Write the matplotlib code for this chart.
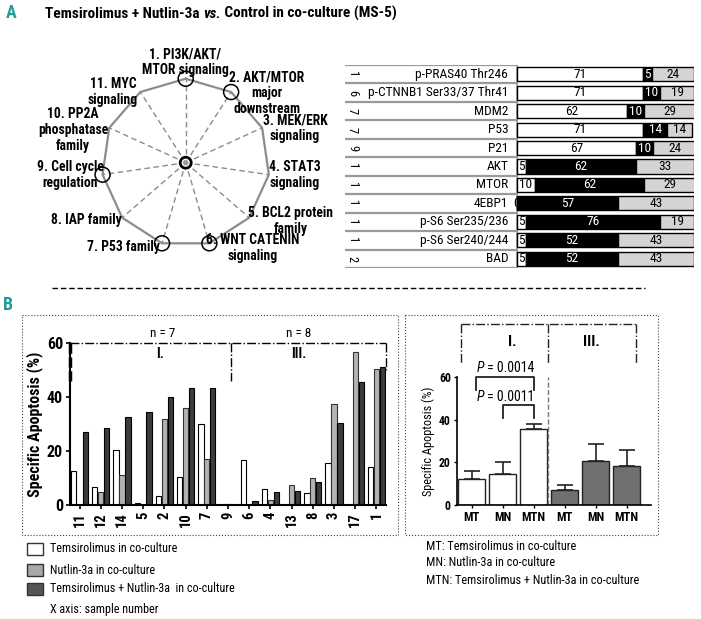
import numpy as np
import matplotlib
matplotlib.use("Agg")
import matplotlib.pyplot as plt
from matplotlib.patches import Circle, Rectangle

plt.rcParams['font.family'] = ['Roboto Condensed', 'Liberation Sans', 'DejaVu Sans']

TEAL = '#1f9c98'

# ---- panel A: pathway radar ----
pathways = ["1. PI3K/AKT/\nMTOR signaling", "2. AKT/MTOR\nmajor\ndownstream",
            "3. MEK/ERK\nsignaling", "4. STAT3\nsignaling", "5. BCL2 protein\nfamily",
            "6. WNT CATENIN\nsignaling", "7. P53 family", "8. IAP family",
            "9. Cell cycle\nregulation", "10. PP2A\nphosphatase\nfamily", "11. MYC\nsignaling"]
circled = [1, 2, 6, 7, 9]

# ---- panel A: protein table ----
proteins = ["p-PRAS40 Thr246", "p-CTNNB1 Ser33/37 Thr41", "MDM2", "P53", "P21", "AKT",
            "MTOR", "4EBP1", "p-S6 Ser235/236", "p-S6 Ser240/244", "BAD"]
protein_n = [1, 6, 7, 7, 9, 1, 1, 1, 1, 1, 2]
pct_white = [71, 71, 62, 71, 67, 5, 10, 0, 5, 5, 5]
pct_black = [5, 10, 10, 14, 10, 62, 62, 57, 76, 52, 52]
pct_grey = [24, 19, 29, 14, 24, 33, 29, 43, 19, 43, 43]

# ---- panel B: per-sample apoptosis ----
samples = ['11', '12', '14', '5', '2', '10', '7', '9', '6', '4', '13', '8', '3', '17', '1']
temsi = [12.5, 6.5, 20.5, 0.8, 3.5, 10.5, 30, 0, 16.5, 6, 0, 4.5, 15.5, 0, 14]
nutlin = [0, 5, 11, 0, 32, 36, 17, 0.3, 0, 2, 7.5, 10, 37.5, 56.5, 50.5]
combo = [27, 28.5, 32.5, 34.5, 40, 43.5, 43.5, 0, 1.3, 5, 5.2, 8.5, 30.5, 45.5, 51]

# ---- panel B: group means ----
treat = ['MT', 'MN', 'MTN']
mean_I = [12, 14.5, 35.5]
sem_I = [4, 5.5, 2.7]
mean_III = [7, 20.5, 18.4]
sem_III = [2.6, 8.3, 7.4]

fig = plt.figure(figsize=(7.01, 6.19), dpi=100)

# overlay in pixel coordinates for annotations / frames
ov = fig.add_axes([0, 0, 1, 1], zorder=0)
ov.set_xlim(0, 701)
ov.set_ylim(619, 0)
ov.axis('off')

ov.text(11, 13, "A", color=TEAL, fontsize=13, fontweight='bold', ha='center', va='center')
ov.text(8, 305, "B", color=TEAL, fontsize=13, fontweight='bold', ha='center', va='center')

# title with italic "vs."
fig.canvas.draw()
r = fig.canvas.get_renderer()
x = 45
for s, st in [("Temsirolimus + Nutlin-3a ", 'normal'), ("vs.", 'italic'),
              (" Control in co-culture (MS-5)", 'normal')]:
    t = ov.text(x, 17.5, s, fontsize=11, fontweight='bold', style=st, va='baseline')
    x = t.get_window_extent(r).x1

# radar
cx, cy, R = 185.7, 162.7, 84
n = len(pathways)
ang = np.pi / 2 - 2 * np.pi * np.arange(n) / n
vx = cx + R * np.cos(ang)
vy = cy - R * np.sin(ang)
for k in range(n):
    ov.plot([cx, vx[k]], [cy, vy[k]], ls=(0, (4, 2.5)), color='#8c8c8c', lw=1)
ov.plot(np.append(vx, vx[0]), np.append(vy, vy[0]), color='#8c8c8c', lw=1.6)
for c in circled:
    ov.add_patch(Circle((vx[c - 1], vy[c - 1]), 7.5, fill=False, ec='black', lw=1.1, zorder=5))
ov.add_patch(Circle((cx, cy), 5.5, fc='white', ec='black', lw=2, zorder=5))
ov.add_patch(Circle((cx, cy), 2.8, fc='#9a9a9a', ec='none', zorder=6))

label_pos = [(185, 62, 'center'), (267, 93, 'center'), (295, 128, 'center'),
             (295, 175, 'center'), (291, 221, 'center'), (253, 248, 'center'),
             (160, 247, 'right'), (86, 220, 'center'), (70, 175, 'center'),
             (73, 130, 'center'), (113, 92, 'center')]
for lab, (lx, ly, ha) in zip(pathways, label_pos):
    ov.text(lx, ly, lab, fontsize=9.8, fontweight='bold', ha=ha, va='center',
            multialignment='center', linespacing=1.15, zorder=7)

# separator between A and B
ov.plot([52, 645], [288, 288], color='black', lw=1, ls=(0, (4, 2)))

# dotted frames of panel B
ov.add_patch(Rectangle((22, 315), 376, 220, fill=False, ec='#444444', lw=0.8, ls=':'))
ov.add_patch(Rectangle((405, 315), 253, 220, fill=False, ec='#444444', lw=0.8, ls=':'))

# legend (left)
leg_cols = ['white', '#a8a8a8', '#555555']
leg_txt = ["Temsirolimus in co-culture", "Nutlin-3a in co-culture",
           "Temsirolimus + Nutlin-3a  in co-culture"]
for i, (c, s) in enumerate(zip(leg_cols, leg_txt)):
    yy = [549, 570, 589][i]
    ov.add_patch(Rectangle((27, yy - 6), 16, 12, fc=c, ec='#333333', lw=1))
    ov.text(50, yy, s, fontsize=8.7, va='center')
ov.text(50, 610, "X axis: sample number", fontsize=8.7, va='center')

# legend (right)
for i, s in enumerate(["MT: Temsirolimus in co-culture", "MN: Nutlin-3a in co-culture",
                       "MTN: Temsirolimus + Nutlin-3a in co-culture"]):
    ov.text(426, [547, 563, 580][i], s, fontsize=8.8, va='center')

# P values
for yb, s in [(372, " = 0.0014"), (401, " = 0.0011")]:
    t = ov.text(477, yb, "P", fontsize=10, style='italic', va='baseline')
    ov.text(t.get_window_extent(r).x1, yb, s, fontsize=10, va='baseline')

# ---- table ----
tb = fig.add_axes([345 / 701, (619 - 268) / 619, 349 / 701, 203 / 619], zorder=2)
tb.set_xlim(-97.2, 100)
tb.set_ylim(len(proteins) - 0.5, -0.5)
tb.axis('off')
rows = np.arange(len(proteins))
h = 0.76
w = np.array(pct_white)
b = np.array(pct_black)
g = np.array(pct_grey)
tb.barh(rows, w, height=h, color='white', edgecolor='black', lw=1, zorder=3)
tb.barh(rows, b, left=w, height=h, color='black', edgecolor='black', lw=1, zorder=3)
tb.barh(rows, g, left=w + b, height=h, color='#d4d4d4', edgecolor='black', lw=1, zorder=3)
for k in range(len(proteins) + 1):
    tb.plot([-97.2, 0], [k - 0.5, k - 0.5], color='#9a9a9a', lw=1.6, zorder=1)
tb.plot([0, 0], [-0.5, len(proteins) - 0.5], color='#9a9a9a', lw=1.2, zorder=1)
for i in rows:
    tb.text(-93, i, str(protein_n[i]), rotation=-90, fontsize=9, ha='center', va='center')
    tb.text(-5, i, proteins[i], fontsize=9.6, ha='right', va='center')
    starts = [0, w[i], w[i] + b[i]]
    for val, st, col in zip([w[i], b[i], g[i]], starts, ['black', 'white', 'black']):
        if val == 0:
            tb.text(0, i, "0", fontsize=9.6, ha='center', va='center', zorder=2)
        elif val < 10:
            tb.text(st + 0.6, i, str(val), fontsize=9.6, ha='left', va='center', color=col, zorder=4)
        else:
            tb.text(st + val / 2, i, str(val), fontsize=9.6, ha='center', va='center', color=col, zorder=4)

# ---- per-sample bars ----
ax = fig.add_axes([70 / 701, (619 - 505) / 619, 316 / 701, 162 / 619], zorder=2)
ax.patch.set_alpha(0)
xs = np.arange(len(samples))
bw = 0.25
ax.bar(xs - 0.28, temsi, bw, color='white', edgecolor='black', lw=0.8)
ax.bar(xs, nutlin, bw, color='#b3b3b3', edgecolor='#333333', lw=0.8)
ax.bar(xs + 0.28, combo, bw, color='#3c3c3c', edgecolor='black', lw=0.8)
ax.set_xlim(-0.45, 14.45)
ax.set_ylim(0, 60)
ax.set_yticks([0, 20, 40, 60])
ax.set_xticks(xs)
ax.set_xticklabels(samples, rotation=90, fontweight='bold', fontsize=10.5)
for lab in ax.get_yticklabels():
    lab.set_fontweight('bold')
    lab.set_fontsize(11.5)
ax.tick_params(length=3, width=1.2, pad=2)
ax.set_ylabel("Specific Apoptosis (%)", fontweight='bold', fontsize=11.5, labelpad=3)
for sp in ['top', 'right']:
    ax.spines[sp].set_visible(False)
for sp in ['left', 'bottom']:
    ax.spines[sp].set_linewidth(1.5)
dd = dict(color='black', lw=1, ls='-.', clip_on=False)
ax.plot([-0.45, 14.45], [60, 60], **dd)
ax.plot([7.16, 7.16], [60, 46], **dd)
ax.plot([14.45, 14.45], [60, 50], **dd)
ax.plot([-0.45, -0.45], [60, 46], color='black', lw=2.5, ls=(0, (3, 1)), clip_on=False)
ax.text(3.9, 63.5, "n = 7", fontsize=9.5, ha='center', va='center')
ax.text(10.35, 63.5, "n = 8", fontsize=9.5, ha='center', va='center')
ax.text(3.8, 56, "I.", fontsize=10, fontweight='bold', ha='center', va='center')
ax.text(10.35, 56, "III.", fontsize=10, fontweight='bold', ha='center', va='center')

# ---- group means ----
bx = fig.add_axes([457 / 701, (619 - 505) / 619, 194 / 701, 128 / 619], zorder=2)
bx.patch.set_alpha(0)
pos = np.arange(6)
means = mean_I + mean_III
sems = sem_I + sem_III
cols = ['white'] * 3 + ['#707070'] * 3
bx.bar(pos, means, 0.87, color=cols, edgecolor='#222222', lw=1)
bx.errorbar(pos, means, yerr=[np.zeros(6), sems], fmt='none', ecolor='#222222',
            elinewidth=1.2, capsize=6, capthick=1.2)
bx.set_xlim(-0.47, 5.79)
bx.set_ylim(0, 60)
bx.set_yticks([0, 20, 40, 60])
bx.set_xticks(pos)
bx.set_xticklabels(treat * 2, fontweight='bold', fontsize=9)
for lab in bx.get_yticklabels():
    lab.set_fontweight('bold')
    lab.set_fontsize(8.5)
bx.tick_params(length=2.5, width=1, pad=2)
bx.set_ylabel("Specific Apoptosis (%)", fontsize=8.8, labelpad=3)
for sp in ['top', 'right']:
    bx.spines[sp].set_visible(False)
for sp in ['left', 'bottom']:
    bx.spines[sp].set_linewidth(1.2)
bx.plot([2.47, 2.47], [0, 60], color='#777777', lw=1, ls='--')
dd = dict(color='#222222', lw=1, ls='-.', clip_on=False)
bx.plot([-0.34, 5.31], [84.8, 84.8], **dd)
for xv in [-0.34, 2.47, 5.31]:
    bx.plot([xv, xv], [84.8, 66.6], **dd)
bx.text(1.3, 76.4, "I.", fontsize=11, fontweight='bold', ha='center', va='center')
bx.text(3.88, 76.4, "III.", fontsize=11, fontweight='bold', ha='center', va='center')
# significance brackets
bx.plot([0.15, 0.15, 2, 2], [53.9, 60, 60, 53.9], color='#222222', lw=1.3, clip_on=False)
bx.plot([1, 1, 2, 2], [40.8, 46.9, 46.9, 40.8], color='#222222', lw=1.3, clip_on=False)

fig.savefig("out.png", dpi=100)
